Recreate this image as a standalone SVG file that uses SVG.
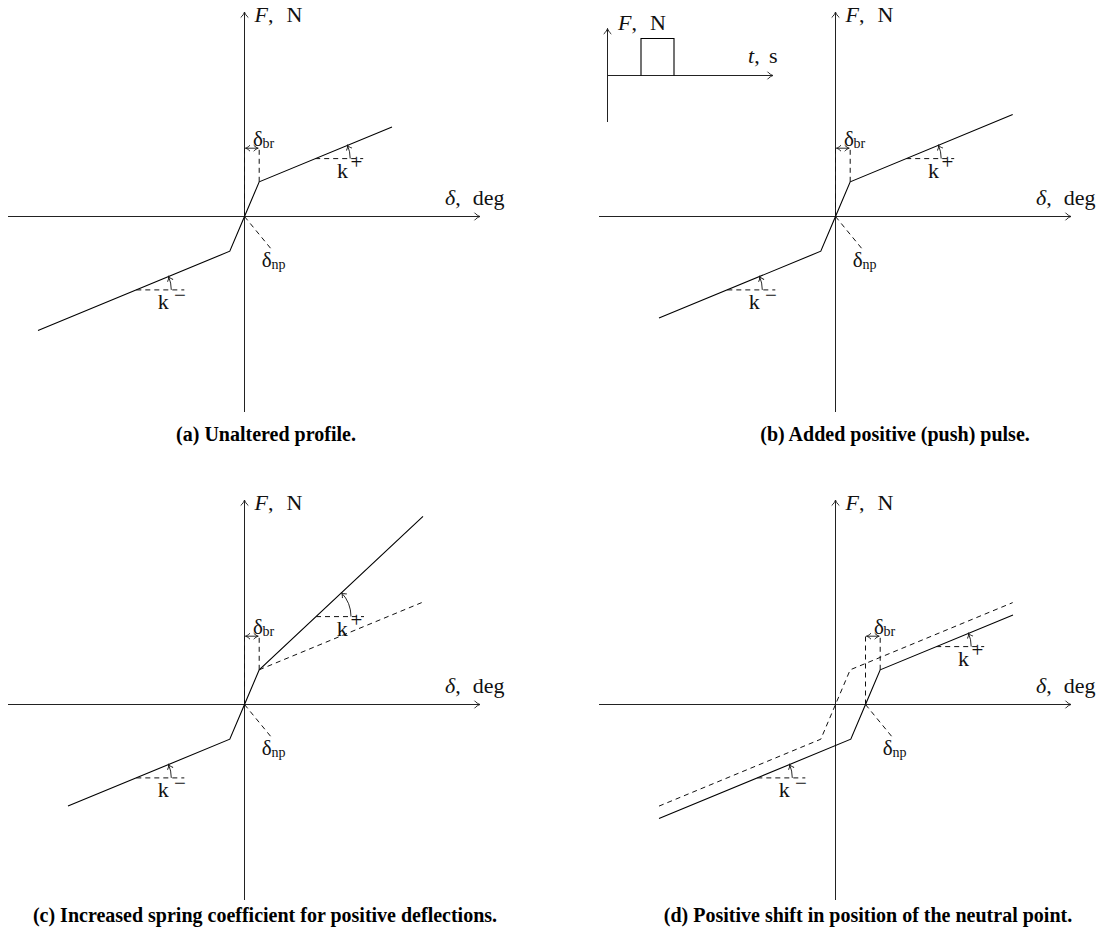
<svg xmlns="http://www.w3.org/2000/svg" width="1119" height="944" viewBox="0 0 1119 944">
<defs>
<style>
.ax{fill:none;stroke:#222;stroke-width:1}
.cv{fill:none;stroke:#000;stroke-width:1.1}
.ds{fill:none;stroke:#111;stroke-width:1;stroke-dasharray:5 4}
.th{fill:none;stroke:#111;stroke-width:0.9}
text{font-family:"Liberation Serif","Times New Roman",serif;fill:#111}
.lab{font-size:22px}
.it{font-style:italic}
.gk{font-size:21px}
.sub{font-size:14px}
.sup{font-size:21px}
.cap{font-size:20px;font-weight:bold;text-anchor:middle;fill:#000}
</style>
<marker id="ar" viewBox="-7 -5 8 10" refX="0" refY="0" markerWidth="8" markerHeight="10" markerUnits="userSpaceOnUse" orient="auto-start-reverse" overflow="visible">
<path d="M-5.5,-3.8 C-3.8,-1.6 -1.2,-0.4 0,0 C-1.2,0.4 -3.8,1.6 -5.5,3.8" fill="none" stroke="#222" stroke-width="1"/>
</marker>
<marker id="as" viewBox="-6 -4 7 8" refX="0" refY="0" markerWidth="7" markerHeight="8" markerUnits="userSpaceOnUse" orient="auto-start-reverse" overflow="visible">
<path d="M-4.5,-3 C-3,-1.3 -1,-0.3 0,0 C-1,0.3 -3,1.3 -4.5,3" fill="none" stroke="#111" stroke-width="0.9"/>
</marker>
</defs>
<rect width="1119" height="944" fill="#fff"/>

<!-- Panel (a) -->
<g id="panel-a" transform="translate(244.5,216.5)">
  <g id="a-axes">
    <path class="ax" d="M0,195.5 V-204.5" marker-end="url(#ar)"/>
    <path class="ax" d="M-236.5,0 H235.5" marker-end="url(#ar)"/>
    <text class="lab" x="10" y="-194.5"><tspan class="it">F</tspan>,</text>
    <text class="lab" x="42" y="-194.5">N</text>
    <text class="lab" x="200.5" y="-11.5"><tspan class="it">δ</tspan>,</text>
    <text class="lab" x="228.2" y="-11.5">deg</text>
  </g>
  <g id="a-curve">
    <polyline class="cv" points="-206.5,114 -14.7,34.7 0,0 14.7,-34.7 147.5,-89.6"/>
  </g>
  <g id="a-labels">
    <path class="ds" d="M0,0 V-68.3 M14.7,-34.7 V-68.3"/>
    <path class="th" d="M1,-68.3 H13.7" marker-start="url(#as)" marker-end="url(#as)"/>
    <text class="gk" x="8.5" y="-70.5">δ</text><text class="sub" x="18" y="-68.5">br</text>
    <path class="ds" d="M0,0 L27.5,33.5"/>
    <text class="gk" x="17.2" y="50.2">δ</text><text class="sub" x="27" y="52">np</text>
    <path class="ds" d="M70.7,-57.9 H118.7"/>
    <path class="th" d="M105.7,-57.9 A35,35 0 0 0 103,-71.3" marker-end="url(#as)"/>
    <text class="lab" x="92.4" y="-38.9">k</text><text class="sup" x="106" y="-47.8">+</text>
    <path class="ds" d="M-108.2,73.4 H-60.2"/>
    <path class="th" d="M-73.2,73.4 A35,35 0 0 0 -75.9,60" marker-end="url(#as)"/>
    <text class="lab" x="-86.7" y="92.4">k</text><text class="sup" x="-70.5" y="85">−</text>
  </g>
</g>

<!-- Panel (b) -->
<g id="panel-b" transform="translate(835.5,216.5)">
  <g id="b-axes">
    <path class="ax" d="M0,195.5 V-204.5" marker-end="url(#ar)"/>
    <path class="ax" d="M-236.5,0 H235.5" marker-end="url(#ar)"/>
    <text class="lab" x="10" y="-194.5"><tspan class="it">F</tspan>,</text>
    <text class="lab" x="42" y="-194.5">N</text>
    <text class="lab" x="200.5" y="-11.5"><tspan class="it">δ</tspan>,</text>
    <text class="lab" x="228.2" y="-11.5">deg</text>
  </g>
  <g id="b-curve">
    <polyline class="cv" points="-176.5,101.6 -14.7,34.7 0,0 14.7,-34.7 177.2,-101.9"/>
  </g>
  <g id="b-labels">
    <path class="ds" d="M0,0 V-68.3 M14.7,-34.7 V-68.3"/>
    <path class="th" d="M1,-68.3 H13.7" marker-start="url(#as)" marker-end="url(#as)"/>
    <text class="gk" x="8.5" y="-70.5">δ</text><text class="sub" x="18" y="-68.5">br</text>
    <path class="ds" d="M0,0 L27.5,33.5"/>
    <text class="gk" x="17.2" y="50.2">δ</text><text class="sub" x="27" y="52">np</text>
    <path class="ds" d="M70.7,-57.9 H118.7"/>
    <path class="th" d="M105.7,-57.9 A35,35 0 0 0 103,-71.3" marker-end="url(#as)"/>
    <text class="lab" x="92.4" y="-38.9">k</text><text class="sup" x="106" y="-47.8">+</text>
    <path class="ds" d="M-108.2,73.4 H-60.2"/>
    <path class="th" d="M-73.2,73.4 A35,35 0 0 0 -75.9,60" marker-end="url(#as)"/>
    <text class="lab" x="-86.7" y="92.4">k</text><text class="sup" x="-70.5" y="85">−</text>
  </g>
</g>
<g id="b-inset">
  <path class="ax" d="M607.5,122 V28.5" marker-end="url(#ar)"/>
  <path class="ax" d="M607.5,75.5 H773" marker-end="url(#ar)"/>
  <path class="cv" d="M641,75.5 V38.5 H674 V75.5"/>
  <text class="lab" x="618" y="30"><tspan class="it">F</tspan>,</text>
  <text class="lab" x="650" y="30">N</text>
  <text class="lab" x="748" y="63"><tspan class="it">t</tspan>,</text>
  <text class="lab" x="769" y="63">s</text>
</g>

<!-- Panel (c) -->
<g id="panel-c" transform="translate(244.5,704.5)">
  <g id="c-axes">
    <path class="ax" d="M0,195.5 V-204.5" marker-end="url(#ar)"/>
    <path class="ax" d="M-236.5,0 H235.5" marker-end="url(#ar)"/>
    <text class="lab" x="10" y="-194.5"><tspan class="it">F</tspan>,</text>
    <text class="lab" x="42" y="-194.5">N</text>
    <text class="lab" x="200.5" y="-11.5"><tspan class="it">δ</tspan>,</text>
    <text class="lab" x="228.2" y="-11.5">deg</text>
  </g>
  <g id="c-curve">
    <polyline class="cv" points="-176.5,101.6 -14.7,34.7 0,0 14.7,-34.7 178.5,-188.2"/>
    <path class="ds" d="M14.7,-34.7 L177.2,-101.9"/>
  </g>
  <g id="c-labels">
    <path class="ds" d="M0,0 V-68.3 M14.7,-34.7 V-68.3"/>
    <path class="th" d="M1,-68.3 H13.7" marker-start="url(#as)" marker-end="url(#as)"/>
    <text class="gk" x="8.5" y="-70.5">δ</text><text class="sub" x="18" y="-68.5">br</text>
    <path class="ds" d="M0,0 L27.5,33.5"/>
    <text class="gk" x="17.2" y="50.2">δ</text><text class="sub" x="27" y="52">np</text>
    <path class="ds" d="M71.5,-87.9 H119.5"/>
    <path class="th" d="M106.5,-87.9 A35,35 0 0 0 97,-111.8" marker-end="url(#as)"/>
    <text class="lab" x="92.2" y="-68.9">k</text><text class="sup" x="106" y="-77.8">+</text>
    <path class="ds" d="M-108.2,73.4 H-60.2"/>
    <path class="th" d="M-73.2,73.4 A35,35 0 0 0 -75.9,60" marker-end="url(#as)"/>
    <text class="lab" x="-86.7" y="92.4">k</text><text class="sup" x="-70.5" y="85">−</text>
  </g>
</g>

<!-- Panel (d) -->
<g id="panel-d" transform="translate(835.5,704.5)">
  <g id="d-axes">
    <path class="ax" d="M0,195.5 V-204.5" marker-end="url(#ar)"/>
    <path class="ax" d="M-236.5,0 H235.5" marker-end="url(#ar)"/>
    <text class="lab" x="10" y="-194.5"><tspan class="it">F</tspan>,</text>
    <text class="lab" x="42" y="-194.5">N</text>
    <text class="lab" x="200.5" y="-11.5"><tspan class="it">δ</tspan>,</text>
    <text class="lab" x="228.2" y="-11.5">deg</text>
  </g>
  <g id="d-curve-original">
    <polyline class="ds" points="-176.5,101.6 -14.7,34.7 0,0 14.7,-34.7 177.2,-101.9"/>
  </g>
</g>
<g id="panel-d-shifted" transform="translate(865.5,704.5)">
  <g id="d-curve">
    <polyline class="cv" points="-206.5,114 -14.7,34.7 0,0 14.7,-34.7 147.5,-89.6"/>
  </g>
  <g id="d-labels">
    <path class="ds" d="M0,0 V-68.3 M14.7,-34.7 V-68.3"/>
    <path class="th" d="M1,-68.3 H13.7" marker-start="url(#as)" marker-end="url(#as)"/>
    <text class="gk" x="8.5" y="-70.5">δ</text><text class="sub" x="18" y="-68.5">br</text>
    <path class="ds" d="M0,0 L27.5,33.5"/>
    <text class="gk" x="17.2" y="50.2">δ</text><text class="sub" x="27" y="52">np</text>
    <path class="ds" d="M70.7,-57.9 H118.7"/>
    <path class="th" d="M105.7,-57.9 A35,35 0 0 0 103,-71.3" marker-end="url(#as)"/>
    <text class="lab" x="92.4" y="-38.9">k</text><text class="sup" x="106" y="-47.8">+</text>
    <path class="ds" d="M-108.2,73.4 H-60.2"/>
    <path class="th" d="M-73.2,73.4 A35,35 0 0 0 -75.9,60" marker-end="url(#as)"/>
    <text class="lab" x="-86.7" y="92.4">k</text><text class="sup" x="-70.5" y="85">−</text>
  </g>
</g>

<g id="captions">
  <text class="cap" x="266" y="441">(a) Unaltered profile.</text>
  <text class="cap" x="895" y="441">(b) Added positive (push) pulse.</text>
  <text class="cap" x="265" y="922">(c) Increased spring coefficient for positive deflections.</text>
  <text class="cap" x="868" y="922">(d) Positive shift in position of the neutral point.</text>
</g>
</svg>
